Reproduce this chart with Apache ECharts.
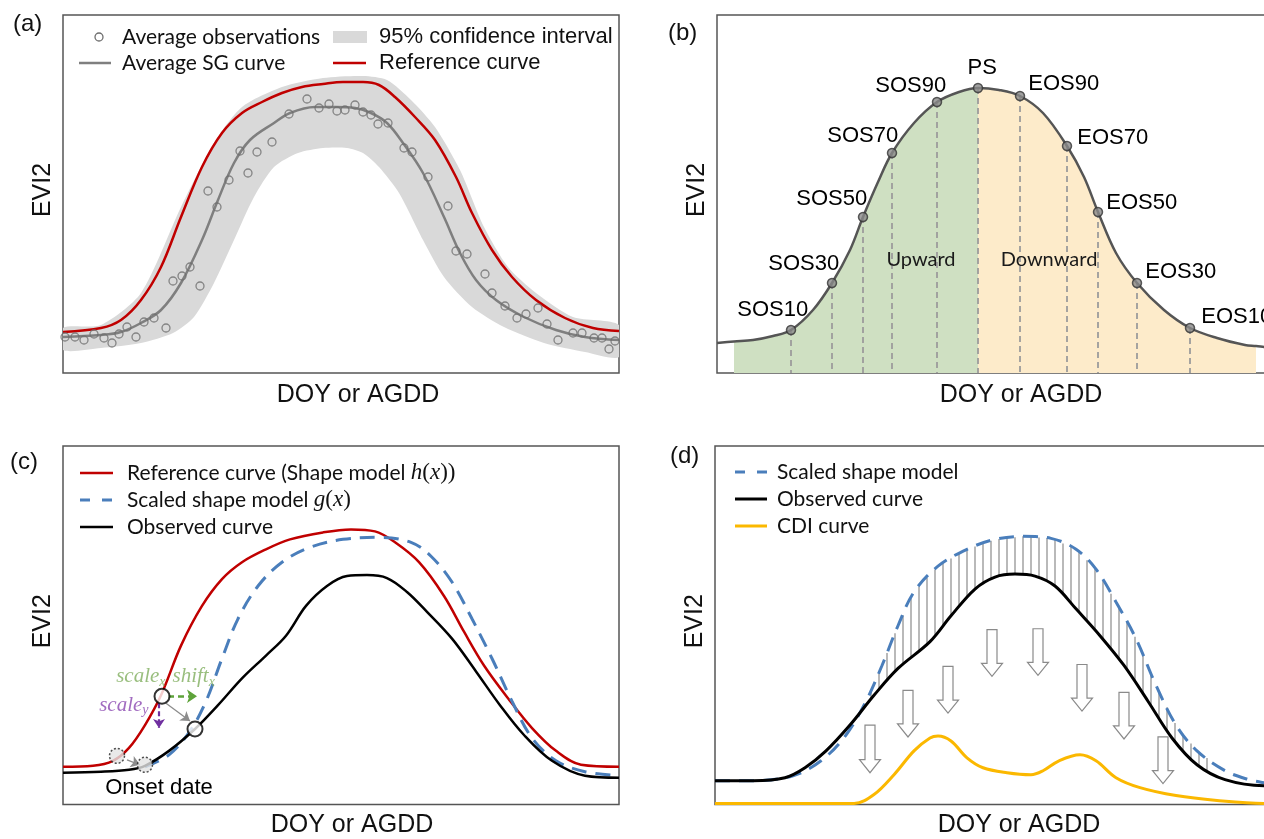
<!DOCTYPE html>
<html>
<head>
<meta charset="utf-8">
<script src="https://cdn.jsdelivr.net/npm/echarts@6/dist/echarts.min.js"></script>
<style>
  html, body { margin: 0; padding: 0; background: #fff; overflow: hidden; }
  #chart { width: 1290px; height: 839px; }
</style>
</head>
<body>
<div id="chart"></div>
<script>
// schematic units: x = px from frame left, y = px up from frame bottom

// (a) average observations, SG curve, reference curve, 95% band
var aRefCurve = [[0,41],[38,45],[58,53],[78,73],[98,106],[118,156],[139,206],[159,240],[179,260],[199,271],[219,280],[239,286],[260,289],[280,291],[300,291],[316,288],[332,276],[352,256],[372,233],[393,196],[409,160],[429,123],[449,96],[473,73],[502,55],[530,45],[556,42]];
var aSgCurve = [[0,36],[38,38],[58,41],[78,50],[98,63],[118,90],[139,133],[155,173],[171,210],[187,233],[211,250],[227,260],[252,266],[272,266],[292,265],[308,260],[324,250],[340,230],[360,200],[381,156],[397,120],[413,93],[433,73],[461,56],[493,43],[522,36],[556,33]];
var aBandUpper = [[0,45],[38,48],[78,80],[118,166],[151,230],[179,266],[219,286],[260,295],[300,297],[324,293],[348,273],[372,246],[397,203],[421,146],[445,106],[473,80],[510,56],[556,48]];
var aBandLower = [[0,23],[38,25],[78,30],[110,40],[131,56],[151,90],[171,133],[191,176],[211,206],[235,220],[260,225],[284,225],[300,220],[316,206],[336,180],[360,133],[381,96],[409,66],[441,46],[481,30],[522,21],[556,16]];
var aObs = [[2,36],[12,36],[21,33],[31,39],[41,35],[49,30],[56,39],[64,46],[73,36],[81,51],[91,55],[103,45],[110,92],[119,97],[127,106],[137,87],[145,182],[154,166],[166,193],[177,222],[185,200],[194,221],[209,231],[226,259],[244,274],[256,265],[266,269],[274,262],[282,263],[292,268],[300,261],[308,258],[315,249],[325,250],[341,225],[349,221],[365,196],[385,167],[393,122],[404,119],[422,99],[429,80],[442,67],[454,55],[463,59],[475,65],[484,49],[495,33],[510,40],[519,40],[531,35],[539,35],[546,24],[552,32]];

// (b) phenology metrics on one curve
var bCurve = [[0,30],[17,31.5],[36,33],[56,37],[74,43],[96,63],[115,90],[133,123],[146,156],[161,191],[175,220],[197,250],[220,271],[242,281],[261,285],[282,283],[303,277],[326,260],[350,227],[367,196],[381,161],[399,120],[420,90],[447,63],[473,45],[500,35],[528,28],[539,27],[547,26],[556,25]];
var phenoNames = ['SOS10','SOS30','SOS50','SOS70','SOS90','PS','EOS90','EOS70','EOS50','EOS30','EOS10'];
var phenoX = [74,115,146,175,220,261,303,350,381,420,473];
var phenoY = [43,90,156,220,271,285,277,227,161,90,45];
var seasonStart = 17, seasonEnd = 539;
var phaseNames = ['Upward','Downward'];
var phaseX = [204,332];
var phaseY = [113,113];

// (c) shape model fitting
var cRefCurve = [[0,38],[30,39],[50,44],[66,57],[82,80],[98,110],[118,160],[139,200],[159,227],[179,244],[203,257],[227,267],[260,274],[288,277],[312,275],[332,264],[356,244],[381,210],[401,174],[421,140],[445,107],[469,77],[493,54],[518,40],[556,38]];
var cScaledCurve = [[82,38],[106,50],[127,74],[143,104],[159,147],[175,187],[195,220],[219,244],[247,259],[280,267],[316,269],[348,264],[368,250],[389,224],[409,187],[429,147],[449,104],[469,67],[493,44],[522,33],[556,29]];
var cObsCurve = [[0,32],[38,33],[66,35],[82,39],[106,54],[132,76],[155,100],[179,127],[203,150],[223,170],[243,200],[264,220],[284,230],[304,231],[324,228],[344,214],[364,194],[389,167],[413,134],[437,100],[461,70],[489,44],[522,29],[556,27]];
var cMatchPoints = [[99,109],[132,76]];
var cOnsetPoints = [[54,49],[82,40]];
var cMoveArrows = [[[103,102],[127,84]],[[64,45],[77,40]]];
var cShiftArrow = [[[105,109],[134,109]]];
var cScaleYArrow = [[[96,102],[96,77]]];
var onsetLabel = [96,17];

// (d) CDI
var dScaledCurve = [[0,24],[38,24],[78,29],[106,44],[131,70],[151,104],[167,140],[183,180],[199,214],[223,240],[252,257],[280,267],[308,270],[336,268],[361,257],[381,237],[401,204],[421,167],[441,120],[461,80],[482,54],[510,34],[534,25],[549,22],[556,21]];
var dObsCurve = [[0,24],[38,24],[70,27],[90,37],[111,54],[135,80],[159,110],[183,137],[215,164],[236,190],[260,217],[280,229],[300,232],[320,230],[340,220],[361,197],[385,170],[409,140],[433,104],[457,67],[482,40],[510,25],[549,19],[556,19]];
var dCdiCurve = [[0,1],[139,1],[159,10],[179,30],[199,54],[215,67],[223,69],[236,64],[252,47],[268,37],[292,32],[316,30],[328,34],[344,44],[365,50],[381,44],[401,27],[425,17],[461,9],[502,4],[549,1],[556,1]];
var hatchX = [148,156,164,172,180,188,196,204,212,220,228,236,244,252,260,268,276,284,292,300,308,316,324,332,340,348,356,364,372,380,388,396,404,412,420,428,436,444,452,460,468,476,484,492];
var arrowX = [155,193,233,277,323,367,409,448];
var arrowTop = [80,115,139,176,177,141,113,68];
var arrowTip = [32,68,92,129,130,94,66,21];

var RED = '#c00000', BLUE = '#4a7ebb', GOLD = '#fbb800', GREY = '#7f7f7f';
var SANS = 'Liberation Sans, Arial, sans-serif';
var CALI = 'Lato, "Open Sans", sans-serif';
var SERIF = 'Liberation Serif, "DejaVu Serif", serif';
var INK = '#111';

function interp(curve, x) {
    for (var i = 1; i < curve.length; i++) {
        if (x <= curve[i][0]) {
            var p = curve[i - 1], q = curve[i];
            return p[1] + (q[1] - p[1]) * (x - p[0]) / (q[0] - p[0]);
        }
    }
    return curve[curve.length - 1][1];
}

var grids = [
    {left: 63, top: 15, width: 556, height: 358},
    {left: 717, top: 15, width: 556, height: 358},
    {left: 63, top: 446, width: 556, height: 361},
    {left: 715, top: 446, width: 556, height: 361}
].map(function (g) {
    g.show = true; g.borderColor = '#555'; g.borderWidth = 1.5; g.containLabel = false;
    return g;
});

var xGap = [9.5, 9.5, 8.5, 8.5];
var xShift = [34, 52, 22, 52];
var xAxes = grids.map(function (g, i) {
    return {
        gridIndex: i, type: 'value', min: 0, max: 556,
        axisLine: {show: false}, axisTick: {show: false}, axisLabel: {show: false}, splitLine: {show: false},
        name: 'DOY or AGDD', nameLocation: 'middle', nameGap: xGap[i],
        nameTextStyle: {fontFamily: SANS, fontSize: 25, color: INK, padding: [0, 0, 0, xShift[i]]}
    };
});
var yAxes = grids.map(function (g, i) {
    return {
        gridIndex: i, type: 'value', min: 0, max: i < 2 ? 358 : 361,
        axisLine: {show: false}, axisTick: {show: false}, axisLabel: {show: false}, splitLine: {show: false},
        name: 'EVI2', nameLocation: 'middle', nameRotate: 90, nameGap: 7,
        nameTextStyle: {fontFamily: SANS, fontSize: 25, color: INK, padding: [0, 0, 0, 8]}
    };
});

function curve(idx, data, color, width, dash, z) {
    return {
        type: 'line', xAxisIndex: idx, yAxisIndex: idx, data: data,
        smooth: 0.35, symbol: 'none', silent: true, z: z || 3,
        lineStyle: {color: color, width: width, type: dash || 'solid'}
    };
}

var series = [];

// ---- (a)
series.push({
    type: 'custom', xAxisIndex: 0, yAxisIndex: 0, data: [0], silent: true, z: 1, clip: true,
    renderItem: function (params, api) {
        var pts = aBandUpper.map(function (p) { return api.coord(p); })
            .concat(aBandLower.slice().reverse().map(function (p) { return api.coord(p); }));
        return {type: 'polygon', shape: {points: pts, smooth: 0.25}, style: {fill: '#d9d9d9'}};
    }
});
series.push(curve(0, aSgCurve, GREY, 2.5));
series.push(curve(0, aRefCurve, RED, 2.5));
series.push({
    type: 'scatter', xAxisIndex: 0, yAxisIndex: 0, data: aObs, symbolSize: 8, silent: true, z: 5,
    itemStyle: {color: 'rgba(0,0,0,0)', borderColor: '#6e6e6e', borderWidth: 1.3}
});

// ---- (b)
var psX = phenoX[5];
series.push({
    type: 'line', xAxisIndex: 1, yAxisIndex: 1, smooth: 0.35, symbol: 'none', silent: true, z: 1,
    data: bCurve.filter(function (p) { return p[0] >= seasonStart && p[0] <= psX; }),
    lineStyle: {width: 0}, areaStyle: {color: '#cfe0c2', opacity: 1, origin: 'start'}
});
series.push({
    type: 'line', xAxisIndex: 1, yAxisIndex: 1, smooth: 0.35, symbol: 'none', silent: true, z: 1,
    data: bCurve.filter(function (p) { return p[0] >= psX && p[0] <= seasonEnd; }),
    lineStyle: {width: 0}, areaStyle: {color: '#fdebca', opacity: 1, origin: 'start'}
});
series.push({
    type: 'custom', xAxisIndex: 1, yAxisIndex: 1, silent: true, z: 2,
    data: phenoX.map(function (x, i) { return [x, phenoY[i]]; }),
    renderItem: function (params, api) {
        var t = api.coord([api.value(0), api.value(1)]);
        var b = api.coord([api.value(0), 0]);
        return {type: 'line', shape: {x1: t[0], y1: t[1], x2: b[0], y2: b[1]},
            style: {stroke: '#9c9c9c', lineWidth: 1.8, lineDash: [6, 4]}};
    }
});
series.push(curve(1, bCurve, '#555', 2.5));
var labelShift = [[18,-19,'right'],[8,-18,'right'],[5,-17,'right'],[7,-16,'right'],[10,-15,'right'],[5,-19,'center'],[9,-11,'left'],[11,-7,'left'],[9,-8,'left'],[9,-10,'left'],[12,-10,'left']];
series.push({
    type: 'scatter', xAxisIndex: 1, yAxisIndex: 1, symbolSize: 9, silent: true, z: 6,
    itemStyle: {color: '#8a8a8a', borderColor: '#333', borderWidth: 1.5},
    data: phenoX.map(function (x, i) {
        var s = labelShift[i];
        return {
            value: [x, phenoY[i]], name: phenoNames[i],
            label: {show: true, formatter: '{b}', position: [4.5 + s[0], 4.5 + s[1]], align: s[2], verticalAlign: 'middle',
                fontFamily: SANS, fontSize: 22, color: '#000', opacity: 1}
        };
    })
});

// ---- (c)
series.push(curve(2, cRefCurve, RED, 2.5, null, 3));
series.push(curve(2, cScaledCurve, BLUE, 3, [15, 9], 3));
series.push(curve(2, cObsCurve, '#000', 2.5, null, 4));
series.push({
    type: 'lines', coordinateSystem: 'cartesian2d', xAxisIndex: 2, yAxisIndex: 2, silent: true, z: 5,
    symbol: ['none', 'arrow'], symbolSize: 9,
    lineStyle: {color: '#8c8c8c', width: 1.3, opacity: 1},
    data: cMoveArrows.map(function (c) { return {coords: c}; })
});
series.push({
    type: 'lines', coordinateSystem: 'cartesian2d', xAxisIndex: 2, yAxisIndex: 2, silent: true, z: 5,
    symbol: ['none', 'arrow'], symbolSize: 10,
    lineStyle: {color: '#5ea33a', width: 2.5, type: [6, 4], opacity: 1},
    data: cShiftArrow.map(function (c) { return {coords: c}; })
});
series.push({
    type: 'lines', coordinateSystem: 'cartesian2d', xAxisIndex: 2, yAxisIndex: 2, silent: true, z: 5,
    symbol: ['none', 'arrow'], symbolSize: 9,
    lineStyle: {color: '#7030a0', width: 2.2, type: [5, 3], opacity: 1},
    data: cScaleYArrow.map(function (c) { return {coords: c}; })
});
series.push({
    type: 'scatter', xAxisIndex: 2, yAxisIndex: 2, data: cMatchPoints, symbolSize: 15, silent: true, z: 6,
    itemStyle: {color: '#fff', borderColor: '#000', borderWidth: 2}
});
series.push({
    type: 'scatter', xAxisIndex: 2, yAxisIndex: 2, data: cOnsetPoints, symbolSize: 15, silent: true, z: 6,
    itemStyle: {color: '#e3e3e3', borderColor: '#222', borderWidth: 1.5, borderType: [2, 2]}
});
var subRich = function (color) {
    return {
        t: {fontFamily: SERIF, fontStyle: 'italic', fontSize: 21, color: color},
        s: {fontFamily: SERIF, fontStyle: 'italic', fontSize: 14, color: color, padding: [11, 0, 0, 0]}
    };
};
series.push({
    type: 'scatter', xAxisIndex: 2, yAxisIndex: 2, symbolSize: 1, silent: true, z: 7,
    itemStyle: {color: 'rgba(0,0,0,0)'},
    data: [
        {value: [103, 129], label: {position: 'left', distance: 0, formatter: '{t|scale}{s|x}', rich: subRich('#7fae5e')}},
        {value: [109, 129], label: {position: 'right', distance: 0, formatter: '{t|shift}{s|x}', rich: subRich('#7fae5e')}},
        {value: [86, 100], label: {position: 'left', distance: 0, formatter: '{t|scale}{s|y}', rich: subRich('#8a46b0')}}
    ],
    label: {show: true}
});

// plain text annotations drawn through a custom series so they stay in data space
function textMarks(idx, points, texts, font, size, color) {
    return {
        type: 'custom', xAxisIndex: idx, yAxisIndex: idx, silent: true, z: 8,
        data: points.map(function (p, i) { return [p[0], p[1], i]; }),
        renderItem: function (params, api) {
            var c = api.coord([api.value(0), api.value(1)]);
            return {type: 'text', x: c[0], y: c[1],
                style: {text: texts[api.value(2)], fontFamily: font, fontSize: size, fill: color,
                    align: 'center', verticalAlign: 'middle'}};
        }
    };
}
series.push(textMarks(1, phaseX.map(function (x, i) { return [x, phaseY[i]]; }), phaseNames, CALI, 20, '#1a1a1a'));
series.push(textMarks(2, [onsetLabel], ['Onset date'], SANS, 22, '#000'));

// ---- (d)
series.push({
    type: 'custom', xAxisIndex: 3, yAxisIndex: 3, silent: true, z: 1,
    data: hatchX.map(function (x) { return [x]; }),
    renderItem: function (params, api) {
        var x = api.value(0);
        var a = api.coord([x, interp(dScaledCurve, x)]);
        var b = api.coord([x, interp(dObsCurve, x)]);
        return {type: 'line', shape: {x1: a[0], y1: a[1], x2: b[0], y2: b[1]},
            style: {stroke: '#8a8a8a', lineWidth: 1.2}};
    }
});
series.push(curve(3, dScaledCurve, BLUE, 3, [15, 9], 3));
series.push(curve(3, dObsCurve, '#000', 3, null, 4));
var cdi = curve(3, dCdiCurve, GOLD, 3, null, 4);
cdi.clip = false;
series.push(cdi);
series.push({
    type: 'custom', xAxisIndex: 3, yAxisIndex: 3, silent: true, z: 5,
    data: arrowX.map(function (x, i) { return [x, arrowTop[i], arrowTip[i]]; }),
    renderItem: function (params, api) {
        var t = api.coord([api.value(0), api.value(1)]);
        var p = api.coord([api.value(0), api.value(2)]);
        var x = t[0], neck = p[1] - 13;
        return {type: 'polygon',
            shape: {points: [[x - 5, t[1]], [x + 5, t[1]], [x + 5, neck], [x + 10.5, neck], [x, p[1]], [x - 10.5, neck], [x - 5, neck]]},
            style: {fill: '#fff', stroke: '#8a8a8a', lineWidth: 1.2}};
    }
});

// ---- legends and panel letters
function txt(x, y, text, font, size, extra) {
    var st = {text: text, fontFamily: font, fontSize: size, fill: INK, align: 'left', verticalAlign: 'middle',
        textAlign: 'left', textVerticalAlign: 'middle'};
    if (extra) { for (var k in extra) st[k] = extra[k]; }
    return {type: 'text', x: x, y: y, style: st, z: 10};
}
function seg(x1, y1, x2, y2, color, w, dash) {
    return {type: 'line', shape: {x1: x1, y1: y1, x2: x2, y2: y2},
        style: {stroke: color, lineWidth: w, lineDash: dash || null}, z: 10};
}
var mathRich = {
    n: {fontFamily: CALI, fontSize: 21, color: INK},
    i: {fontFamily: SERIF, fontStyle: 'italic', fontSize: 23, color: INK},
    r: {fontFamily: SERIF, fontSize: 23, color: INK}
};
var graphics = [
    txt(13, 24, '(a)', SANS, 24), txt(668, 33, '(b)', SANS, 24),
    txt(10, 462, '(c)', SANS, 24), txt(670, 456, '(d)', SANS, 24),

    {type: 'circle', shape: {cx: 99, cy: 37, r: 4}, style: {fill: 'none', stroke: '#6e6e6e', lineWidth: 1.3}, z: 10},
    txt(122, 37, 'Average observations', CALI, 21),
    {type: 'rect', shape: {x: 333, y: 31, width: 34, height: 12}, style: {fill: '#d9d9d9'}, z: 10},
    txt(379, 37, '95% confidence interval', SANS, 22),
    seg(79, 63, 111, 63, GREY, 2.5),
    txt(122, 63, 'Average SG curve', CALI, 21),
    seg(333, 63, 366, 63, RED, 2.5),
    txt(379, 63, 'Reference curve', SANS, 22),

    seg(80, 473, 113, 473, RED, 2.5),
    txt(127, 473, '{n|Reference curve (Shape model }{i|h}{r|(}{i|x}{r|))}', CALI, 21, {rich: mathRich}),
    seg(80, 500, 113, 500, BLUE, 3, [10, 12]),
    txt(127, 500, '{n|Scaled shape model }{i|g}{r|(}{i|x}{r|)}', CALI, 21, {rich: mathRich}),
    seg(80, 527, 113, 527, '#000', 2.5),
    txt(127, 527, 'Observed curve', CALI, 21),

    seg(735, 472, 767, 472, BLUE, 3, [10, 12]),
    txt(777, 472, 'Scaled shape model', CALI, 21),
    seg(735, 499, 767, 499, '#000', 3),
    txt(777, 499, 'Observed curve', CALI, 21),
    seg(735, 526, 767, 526, GOLD, 3),
    txt(777, 526, 'CDI curve', CALI, 21)
];

var chart = echarts.init(document.getElementById('chart'));
chart.setOption({
    animation: false,
    backgroundColor: '#fff',
    grid: grids,
    xAxis: xAxes,
    yAxis: yAxes,
    series: series,
    graphic: graphics
});
</script>
</body>
</html>
